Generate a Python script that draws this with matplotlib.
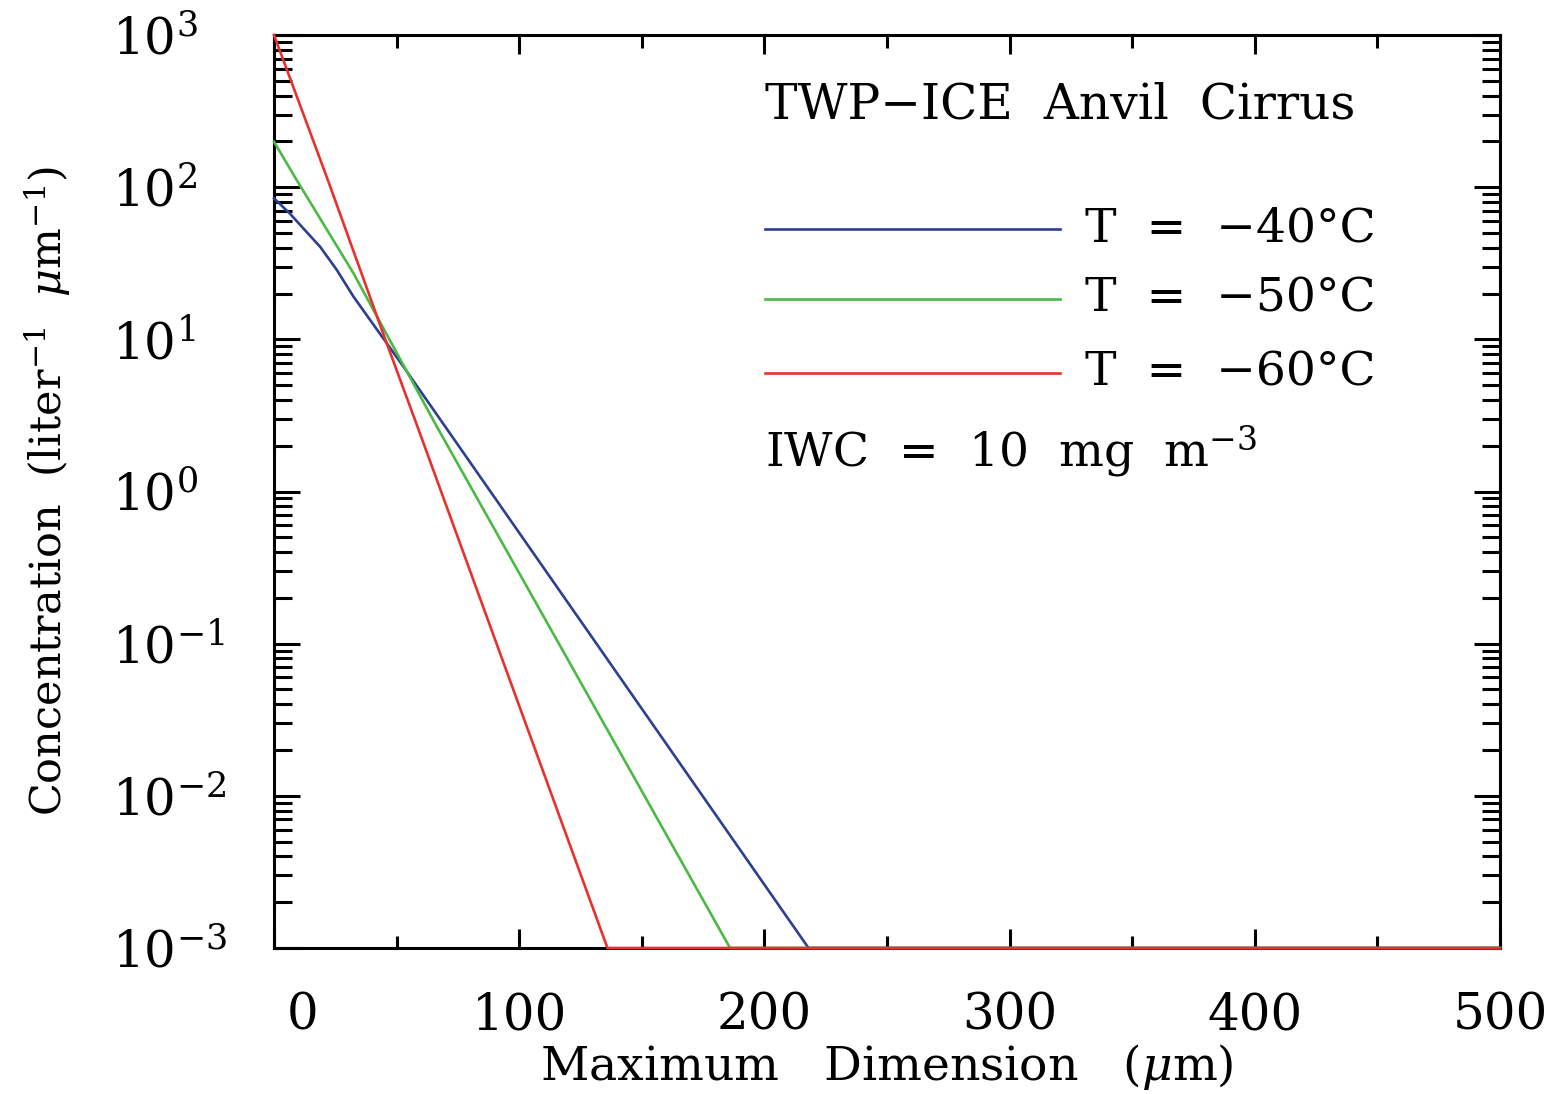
import matplotlib
matplotlib.use("Agg")
import matplotlib.pyplot as plt
import matplotlib.transforms as mtransforms
from matplotlib.ticker import LogLocator, MultipleLocator, FixedLocator, NullFormatter

plt.rcParams['font.family'] = ['DejaVu Serif']
plt.rcParams['mathtext.fontset'] = 'dejavuserif'

# ---- data ----
blue_x = [0, 6.5, 12, 18.8, 25.6, 32.4, 39.2, 46, 52.8, 218, 500]
blue_y = [84.5, 67.0, 53.5, 40.6, 28.6, 19.1, 13.4, 9.42, 6.61, 0.001, 0.001]
green_x = [0, 9.3, 32.4, 66.4, 186, 500]
green_y = [199, 111, 27.2, 2.67, 0.001, 0.001]
red_x = [0, 22, 45, 59, 136, 500]
red_y = [1000, 111, 10.4, 2.54, 0.001, 0.001]

labels = ["T  =  \u221240\u00b0C", "T  =  \u221250\u00b0C", "T  =  \u221260\u00b0C"]
colors = ["#2d3f93", "#4cb944", "#e8312f"]

xticks = [0, 100, 200, 300, 400, 500]
yticks = [1e-3, 1e-2, 1e-1, 1e0, 1e1, 1e2, 1e3]
ytick_labels = [r"$10^{-3}$", r"$10^{-2}$", r"$10^{-1}$", r"$10^{0}$",
                r"$10^{1}$", r"$10^{2}$", r"$10^{3}$"]

W, H = 1567, 1094
fig = plt.figure(figsize=(W / 100, H / 100), dpi=100)
ax = fig.add_axes([274 / W, 1 - 948 / H, (1500 - 274) / W, (948 - 35) / H])

for xs, ys, c in zip([blue_x, green_x, red_x], [blue_y, green_y, red_y], colors):
    ax.plot(xs, ys, color=c, lw=1.9, zorder=3, clip_on=False)

ax.set_yscale('log')
ax.set_xlim(0, 500)
ax.set_ylim(1e-3, 1e3)

for s in ax.spines.values():
    s.set_linewidth(2.2)

ax.xaxis.set_major_locator(FixedLocator(xticks))
ax.xaxis.set_minor_locator(MultipleLocator(50))
ax.set_xticklabels([str(v) for v in xticks])
ax.yaxis.set_major_locator(FixedLocator(yticks))
ax.yaxis.set_minor_locator(LogLocator(base=10, subs=range(2, 10), numticks=20))
ax.yaxis.set_minor_formatter(NullFormatter())
ax.set_yticklabels(ytick_labels)

ax.tick_params(axis='both', which='both', direction='in', top=True, right=True,
               width=2.2, labelsize=36)
ax.tick_params(axis='x', which='major', length=14, pad=31)
ax.tick_params(axis='x', which='minor', length=9)
ax.tick_params(axis='y', which='major', length=19, pad=117)
ax.tick_params(axis='y', which='minor', length=13)
for lab in ax.get_yticklabels():
    lab.set_horizontalalignment('left')
    lab.set_verticalalignment('center_baseline')

# shift the "0" label right as in the reference
xl = ax.get_xticklabels()
xl[0].set_transform(xl[0].get_transform() + mtransforms.ScaledTranslation(29 / 100, 0, fig.dpi_scale_trans))

ax.set_xlabel(r"Maximum   Dimension   ($\mu$m)", fontsize=34, labelpad=1)
ax.set_ylabel(r"Concentration  (liter$^{-1}$  $\mu$m$^{-1}$)", fontsize=31, labelpad=28)

# annotations
ax.text(0.4005, (948 - 105) / 913, "TWP\u2212ICE  Anvil  Cirrus", transform=ax.transAxes,
        fontsize=35, ha='left', va='center')
for i, (lab, c) in enumerate(zip(labels, colors)):
    yy = (948 - [229, 299, 373][i]) / 913
    ax.plot([0.4005, 0.6411], [yy, yy], transform=ax.transAxes, color=c, lw=1.9)
    ax.text(0.6615, yy, lab, transform=ax.transAxes, fontsize=34, ha='left', va='center')
ax.text(0.4005, (948 - 452) / 913, r"IWC  =  10  mg  m$^{-3}$", transform=ax.transAxes,
        fontsize=34, ha='left', va='center')

fig.savefig("out.png", dpi=100)
